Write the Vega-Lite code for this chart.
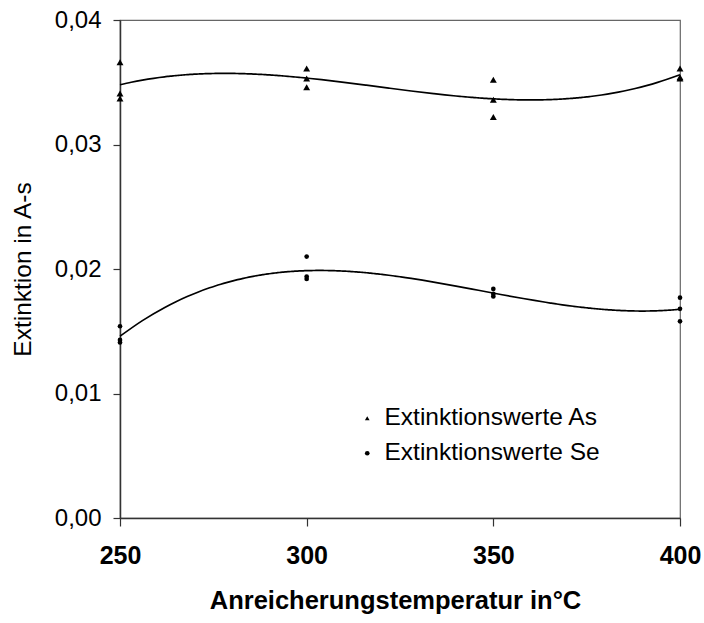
{
  "$schema": "https://vega.github.io/schema/vega-lite/v6.json",
  "autosize": "none",
  "width": 560,
  "height": 498,
  "padding": {"left": 120, "top": 20, "right": 24, "bottom": 105},
  "background": "white",
  "config": {
    "font": "Liberation Sans",
    "view": {"stroke": "#666", "strokeWidth": 1.2},
    "axis": {"grid": false, "domainColor": "#333", "domainWidth": 1.5, "tickColor": "#333", "tickWidth": 1.2, "labelColor": "black", "titleColor": "black"}
  },
  "data": {
    "values": [
      {"series": "Extinktionswerte As", "temp": 250, "value": 0.0366},
      {"series": "Extinktionswerte As", "temp": 250, "value": 0.0341},
      {"series": "Extinktionswerte As", "temp": 250, "value": 0.0337},
      {"series": "Extinktionswerte As", "temp": 300, "value": 0.0361},
      {"series": "Extinktionswerte As", "temp": 300, "value": 0.0353},
      {"series": "Extinktionswerte As", "temp": 300, "value": 0.0346},
      {"series": "Extinktionswerte As", "temp": 350, "value": 0.0352},
      {"series": "Extinktionswerte As", "temp": 350, "value": 0.0336},
      {"series": "Extinktionswerte As", "temp": 350, "value": 0.0322},
      {"series": "Extinktionswerte As", "temp": 400, "value": 0.0361},
      {"series": "Extinktionswerte As", "temp": 400, "value": 0.0354},
      {"series": "Extinktionswerte As", "temp": 400, "value": 0.0353},
      {"series": "Extinktionswerte Se", "temp": 250, "value": 0.0154},
      {"series": "Extinktionswerte Se", "temp": 250, "value": 0.0143},
      {"series": "Extinktionswerte Se", "temp": 250, "value": 0.0141},
      {"series": "Extinktionswerte Se", "temp": 300, "value": 0.0210},
      {"series": "Extinktionswerte Se", "temp": 300, "value": 0.0194},
      {"series": "Extinktionswerte Se", "temp": 300, "value": 0.0192},
      {"series": "Extinktionswerte Se", "temp": 350, "value": 0.0184},
      {"series": "Extinktionswerte Se", "temp": 350, "value": 0.0180},
      {"series": "Extinktionswerte Se", "temp": 350, "value": 0.0178},
      {"series": "Extinktionswerte Se", "temp": 400, "value": 0.0177},
      {"series": "Extinktionswerte Se", "temp": 400, "value": 0.0168},
      {"series": "Extinktionswerte Se", "temp": 400, "value": 0.0158}
    ]
  },
  "encoding": {
    "x": {
      "field": "temp", "type": "quantitative",
      "scale": {"domain": [250, 400], "nice": false, "zero": false},
      "axis": {
        "title": "Anreicherungstemperatur in°C",
        "values": [250, 300, 350, 400],
        "tickSize": 8, "labelPadding": 17, "labelFontSize": 25, "labelFontWeight": "bold",
        "titleFontSize": 25.5, "titleFontWeight": "bold", "titlePadding": 20, "labelFlush": false,
        "titleX": 275
      }
    },
    "y": {
      "field": "value", "type": "quantitative",
      "scale": {"domain": [0, 0.04], "nice": false},
      "axis": {
        "title": "Extinktion in A-s",
        "values": [0, 0.01, 0.02, 0.03, 0.04],
        "labelExpr": "replace(format(datum.value, '.2f'), '.', ',')",
        "tickSize": 7, "labelPadding": 12, "labelFontSize": 24,
        "titleFontSize": 24.5, "titleFontWeight": "normal", "titlePadding": 19, "labelFlush": false
      }
    }
  },
  "layer": [
    {
      "transform": [
        {"regression": "value", "on": "temp", "groupby": ["series"], "method": "poly", "order": 3, "extent": [250, 400]}
      ],
      "mark": {"type": "line", "color": "black", "strokeWidth": 1.7, "interpolate": "monotone"},
      "encoding": {"detail": {"field": "series"}}
    },
    {
      "transform": [{"filter": "datum.series === 'Extinktionswerte As'"}],
      "mark": {"type": "point", "filled": true, "color": "black", "opacity": 1},
      "encoding": {
        "shape": {
          "field": "series", "type": "nominal",
          "scale": {"domain": ["Extinktionswerte As", "Extinktionswerte Se"], "range": ["triangle-up", "circle"]},
          "legend": {
            "title": null, "orient": "none", "legendX": 235, "legendY": 386,
            "padding": 0, "labelFontSize": 24.5, "labelColor": "black", "labelLimit": 0, "symbolSize": 22,
            "symbolFillColor": "black", "symbolStrokeColor": "black", "symbolStrokeWidth": 0,
            "labelOffset": 5, "rowPadding": 10
          }
        },
        "size": {"value": 48}
      }
    },
    {
      "transform": [{"filter": "datum.series === 'Extinktionswerte Se'"}],
      "mark": {"type": "point", "filled": true, "color": "black", "opacity": 1},
      "encoding": {
        "shape": {"field": "series", "type": "nominal"},
        "size": {"value": 22}
      }
    }
  ]
}
